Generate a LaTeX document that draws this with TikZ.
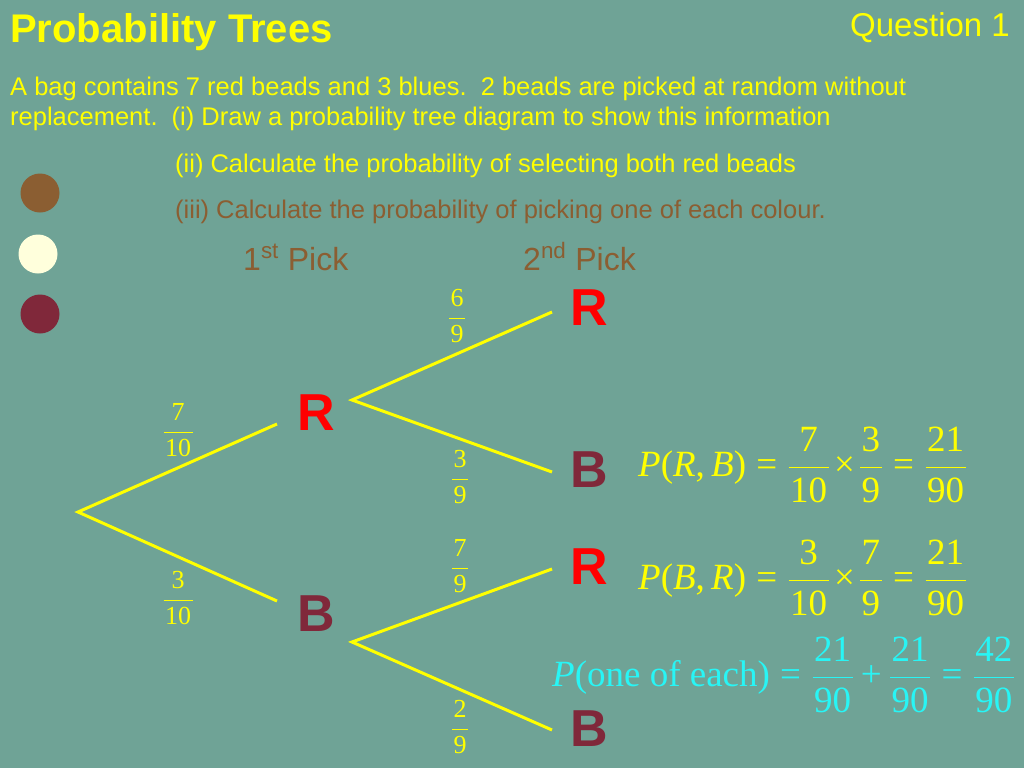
\RequirePackage{fix-cm}
\documentclass[tikz,border=0pt]{standalone}
\usepackage{fontspec}
\setmainfont{Liberation Serif}
\setsansfont{Liberation Sans}
\definecolor{bg}{RGB}{111,163,150}
\definecolor{yel}{RGB}{255,255,0}
\definecolor{brn}{RGB}{139,94,50}
\definecolor{crm}{RGB}{255,255,220}
\definecolor{mrn}{RGB}{128,40,58}
\definecolor{cyn}{RGB}{40,245,245}
\definecolor{lred}{RGB}{255,0,0}
\newcommand\fsz[1]{\fontsize{#1}{#1}\selectfont}
\newcommand\fr[2]{\ensuremath{\displaystyle\frac{\hbox{\kern1.5pt#1\kern1.5pt}}{\hbox{\kern1.5pt#2\kern1.5pt}}}}
\newcommand\Eq{\mathrel{\hbox{=}}}
\newcommand\Tm{\mathbin{\hbox{×}}}
\newcommand\Pl{\mathbin{\hbox{\kern3pt+\kern3pt}}}
\medmuskip=2mu
\tikzset{
  txt/.style={font=\sffamily\fsz{25.5}, text=yel, anchor=base west, inner sep=0},
  pick/.style={font=\sffamily\fsz{32}, text=brn, anchor=base west, inner sep=0},
  letR/.style={font=\sffamily\bfseries\fsz{52}, text=lred, inner sep=0},
  letB/.style={font=\sffamily\bfseries\fsz{52}, text=mrn, inner sep=0},
  prob/.style={font=\fsz{26}, text=yel, inner sep=0},
  eqn/.style={font=\fsz{37}, inner sep=0, anchor=west},
  branch/.style={draw=yel, line width=3},
  bead/.style={circle, minimum size=39, inner sep=0},
}
\begin{document}
\begin{tikzpicture}[x=1pt,y=-1pt]
\fill[bg] (0,0) rectangle (1024,768);
\useasboundingbox (0,0) rectangle (1024,768);
% header
\node[font=\sffamily\bfseries\fsz{40}, text=yel, anchor=base west, inner sep=0] (title) at (10,43) {Probability Trees};
\node[font=\sffamily\fsz{33}, text=yel, anchor=base east, inner sep=0] (q) at (1010,37) {Question 1};
\node[txt] (l1) at (10,95) {A bag contains 7 red beads and 3 blues.\ \ 2 beads are picked at random without};
\node[txt] (l2) at (10,125) {replacement.\ \ (i) Draw a probability tree diagram to show this information};
\node[txt] (l3) at (175,172) {(ii) Calculate the probability of selecting both red beads};
\node[txt, text=brn] (l4) at (175,218) {(iii) Calculate the probability of picking one of each colour.};
% beads
\node[bead, fill=brn] (c1) at (40,193) {};
\node[bead, fill=crm] (c2) at (38,254) {};
\node[bead, fill=mrn] (c3) at (40,314) {};
% pick headers
\node[pick] (p1) at (243,270) {1\textsuperscript{st} Pick};
\node[pick] (p2) at (523,270) {2\textsuperscript{nd} Pick};
% tree
\coordinate (root) at (78,512);
\coordinate (a1) at (277,424);
\coordinate (a2) at (277,601);
\coordinate (v1) at (352,400);
\coordinate (v2) at (352,642);
\coordinate (e1) at (552,312);
\coordinate (e2) at (552,472);
\coordinate (e3) at (552,569);
\coordinate (e4) at (552,730);
\draw[branch] (a1) -- (root) -- (a2);
\draw[branch] (e1) -- (v1) -- (e2);
\draw[branch] (e3) -- (v2) -- (e4);
\node[letR] (R1) at (316,413) {R};
\node[letB] (B1) at (316,614) {B};
\node[letR] (RR) at (589,308) {R};
\node[letB] (RB) at (589,470) {B};
\node[letR] (BR) at (589,567) {R};
\node[letB] (BB) at (589,729) {B};
% probabilities
\node[prob] (f1) at (178,430) {\fr{7}{10}};
\node[prob] (f2) at (178,598) {\fr{3}{10}};
\node[prob] (f3) at (457,316) {\fr{6}{9}};
\node[prob] (f4) at (460,477) {\fr{3}{9}};
\node[prob] (f5) at (460,566) {\fr{7}{9}};
\node[prob] (f6) at (460,727) {\fr{2}{9}};
% equations
\node[eqn, text=yel] (eq1) at (638,465) {$\displaystyle\hbox{\textit{P}(\textit{R},\,\textit{B})}\Eq\fr{7}{10}\Tm\fr{3}{9}\Eq\fr{21}{90}$};
\node[eqn, text=yel] (eq2) at (638,578) {$\displaystyle\hbox{\textit{P}(\textit{B},\,\textit{R})}\Eq\fr{3}{10}\Tm\fr{7}{9}\Eq\fr{21}{90}$};
\node[eqn, text=cyn] (eq3) at (552,675) {$\displaystyle\hbox{\textit{P}(one of each)}\Eq\fr{21}{90}\Pl\fr{21}{90}\Eq\fr{42}{90}$};
\end{tikzpicture}
\end{document}
